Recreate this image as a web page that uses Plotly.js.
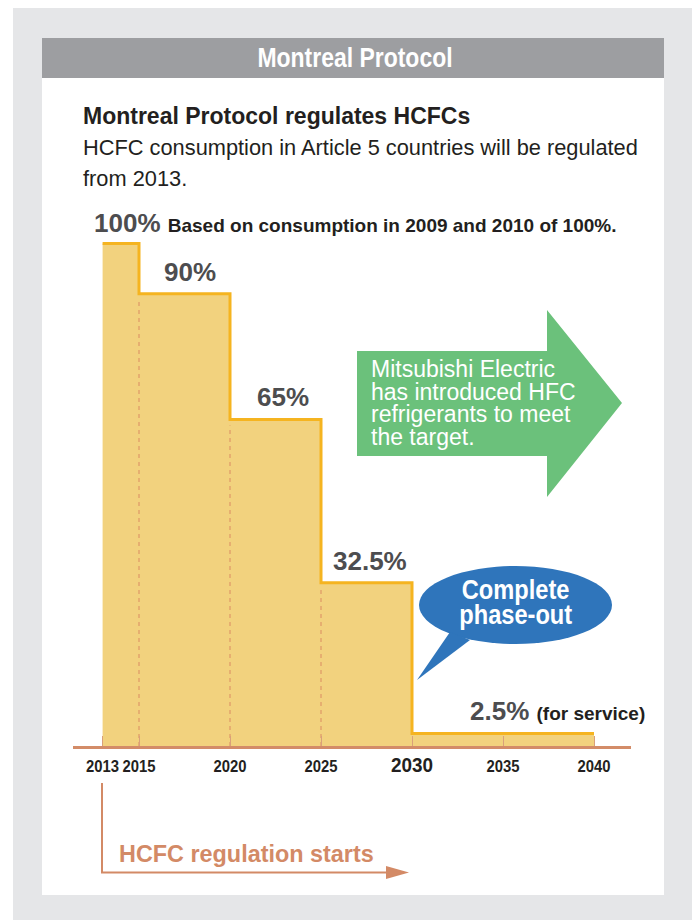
<!DOCTYPE html>
<html>
<head>
<meta charset="utf-8">
<script src="https://cdn.plot.ly/plotly-3.0.1.min.js"></script>
<style>html,body{margin:0;padding:0;background:#fff;}#chart{width:693px;height:920px;}
g.xtick{transform-box:fill-box;transform-origin:center;transform:scaleX(0.9);}
</style>
</head>
<body>
<div id="chart"></div>
<script>
// ---- data ----
const stepYears = [2013, 2015, 2020, 2025, 2030, 2040];
const consumption = [100, 90, 65, 32.5, 2.5, 2.5];
const pctLabels = ['100%', '90%', '65%', '32.5%', '2.5%'];
const dashedYears = [2015, 2020, 2025];
const tickYears = [2013, 2015, 2020, 2025, 2030, 2035, 2040];
const tickLabels = ['2013', '2015', '2020', '2025', '2030', '2035', '2040'];
const headerTitle = 'Montreal Protocol';
const subTitle = 'Montreal Protocol regulates HCFCs';
const bodyLines = ['HCFC consumption in Article 5 countries will be regulated', 'from 2013.'];
const baseNote = 'Based on consumption in 2009 and 2010 of 100%.';
const serviceNote = '(for service)';
const greenLines = ['Mitsubishi Electric', 'has introduced HFC', 'refrigerants to meet', 'the target.'];
const bubbleLines = ['Complete', 'phase-out'];
const startNote = 'HCFC regulation starts';

// ---- helpers (pixel -> paper) ----
const W = 693, H = 920;
const PX = v => v / W;
const PY = v => 1 - v / H;
const SANS = 'Liberation Sans, Arial, Helvetica, sans-serif';

// ---- traces ----
const stepTrace = {
  type: 'scatter', mode: 'lines',
  x: stepYears, y: consumption,
  line: {shape: 'hv', color: '#f5b420', width: 3},
  fill: 'tozeroy', fillcolor: '#f2d27e',
  hoverinfo: 'skip'
};
const dx = [], dy = [];
dashedYears.forEach(yr => {
  const v = consumption[stepYears.indexOf(yr)];
  dx.push(yr, yr, null); dy.push(0, v - 1.2, null);
});
const dashTrace = {
  type: 'scatter', mode: 'lines', x: dx, y: dy,
  line: {color: '#e2a46c', width: 1.5, dash: '4px,4px'},
  hoverinfo: 'skip'
};

// ---- annotations ----
const ann = [];
const narrow = {};
ann.push({xref: 'paper', yref: 'paper', x: PX(355), y: PY(57), text: '<b>' + headerTitle + '</b>',
  showarrow: false, xanchor: 'center', yanchor: 'middle', font: {family: SANS, size: 28, color: '#ffffff'}});
narrow[ann.length - 1] = 0.82;
ann.push({xref: 'paper', yref: 'paper', x: PX(81), y: PY(116), text: subTitle,
  showarrow: false, xanchor: 'left', yanchor: 'middle', font: {family: SANS, size: 23, color: '#231f20', weight: 'bold'}});
bodyLines.forEach((t, i) => ann.push({xref: 'paper', yref: 'paper', x: PX(81), y: PY(148 + i * 30), text: t,
  showarrow: false, xanchor: 'left', yanchor: 'middle', font: {family: SANS, size: 21.8, color: '#231f20'}}));

// percentage labels along the step
const pctStyle = [
  {xa: 'left', xs: -11, extra: baseNote, ys: 3},
  {xa: 'center', xs: 5, ys: 5},
  {xa: 'center', xs: 7, ys: 5},
  {xa: 'center', xs: 3, ys: 5},
  {xa: 'left', xs: -35, extra: serviceNote, ys: 5}
];
pctLabels.forEach((lab, i) => {
  const s = pctStyle[i];
  const xPos = i === 0 ? stepYears[0] : (stepYears[i] + stepYears[i + 1]) / 2;
  let txt = '<b>' + lab + '</b>';
  if (s.extra) txt += ' <span style="font-size:19px;color:#231f20"><b>' + s.extra + '</b></span>';
  ann.push({x: xPos, y: consumption[i], xref: 'x', yref: 'y', text: txt, showarrow: false,
    xanchor: s.xa, yanchor: 'bottom', xshift: s.xs, yshift: s.ys,
    font: {family: SANS, size: 26, color: '#4d4d4f'}});
});

greenLines.forEach((t, i) => ann.push({xref: 'paper', yref: 'paper', x: PX(370), y: PY(369 + i * 22.5), text: t,
  showarrow: false, xanchor: 'left', yanchor: 'middle', borderpad: 0,
  font: {family: SANS, size: 23, color: '#ffffff'}}));
bubbleLines.forEach((t, i) => {
  ann.push({xref: 'paper', yref: 'paper', x: PX(515), y: PY(589 + i * 25.5), text: '<b>' + t + '</b>',
    showarrow: false, xanchor: 'center', yanchor: 'middle', borderpad: 0,
    font: {family: SANS, size: 27.5, color: '#ffffff'}});
  narrow[ann.length - 1] = 0.86;
});
ann.push({xref: 'paper', yref: 'paper', x: PX(117), y: PY(854), text: '<b>' + startNote + '</b>',
  showarrow: false, xanchor: 'left', yanchor: 'middle', font: {family: SANS, size: 23.4, color: '#d38a66'}});

// condensed look for the headline-style texts
const css = document.createElement('style');
css.textContent = Object.keys(narrow).map(i => 'g.annotation[data-index="' + i + '"] text' +
  '{transform-box:fill-box;transform-origin:center;transform:scaleX(' + narrow[i] + ');}').join('\n');
document.head.appendChild(css);

// ---- shapes (page decoration) ----
const P = (pts) => 'M' + pts.map(p => PX(p[0]) + ',' + PY(p[1])).join(' L') + ' Z';
const shapes = [
  {type: 'rect', xref: 'paper', yref: 'paper', x0: PX(13), x1: PX(692), y0: PY(8), y1: PY(920), fillcolor: '#e5e6e8', line: {width: 0}, layer: 'below'},
  {type: 'rect', xref: 'paper', yref: 'paper', x0: PX(42), x1: PX(664), y0: PY(38), y1: PY(895), fillcolor: '#ffffff', line: {width: 0}, layer: 'below'},
  {type: 'rect', xref: 'paper', yref: 'paper', x0: PX(42), x1: PX(664), y0: PY(38), y1: PY(78), fillcolor: '#9d9ea1', line: {width: 0}, layer: 'below'},
  // green arrow
  {type: 'path', xref: 'paper', yref: 'paper', path: P([[357, 351], [547, 351], [547, 310], [622, 403], [547, 497], [547, 456], [357, 456]]),
    fillcolor: '#6bc17b', line: {width: 0}, layer: 'above'},
  // blue bubble
  {type: 'circle', xref: 'paper', yref: 'paper', x0: PX(419), x1: PX(612), y0: PY(566), y1: PY(644), fillcolor: '#2f75bb', line: {width: 0}, layer: 'above'},
  {type: 'path', xref: 'paper', yref: 'paper', path: P([[450, 632], [470, 640], [417, 680]]), fillcolor: '#2f75bb', line: {width: 0}, layer: 'above'},
  // regulation start arrow
  {type: 'path', xref: 'paper', yref: 'paper', path: 'M' + PX(102) + ',' + PY(783) + ' L' + PX(102) + ',' + PY(872.5) + ' L' + PX(390) + ',' + PY(872.5),
    line: {color: '#d38a66', width: 2}, layer: 'above'},
  {type: 'path', xref: 'paper', yref: 'paper', path: P([[386, 866], [409, 872.5], [386, 879]]), fillcolor: '#d38a66', line: {width: 0}, layer: 'above'}
];

// ---- axes ----
const pxPerYear = 18.2;
const xL = 73, xR = 631, x2013 = 102.6;
const xr0 = 2013 - (x2013 - xL) / pxPerYear;
const xr1 = xr0 + (xR - xL) / pxPerYear;
const baseY = 746, pxPerPct = 5.025;

const layout = {
  width: W, height: H, autosize: false,
  margin: {l: 0, r: 0, t: 0, b: 0, pad: 0},
  paper_bgcolor: '#ffffff', plot_bgcolor: 'rgba(0,0,0,0)',
  showlegend: false, hovermode: false,
  xaxis: {
    domain: [xL / W, xR / W], range: [xr0, xr1], fixedrange: true,
    showgrid: false, zeroline: false,
    showline: true, linecolor: '#d38c68', linewidth: 3,
    ticks: 'inside', ticklen: 10, tickwidth: 1, tickcolor: '#d9a07a',
    tickmode: 'array', tickvals: tickYears, tickangle: 0, ticklabeloverflow: 'allow', ticklabelstandoff: 3,
    ticktext: tickLabels.map(t => t === '2030' ? '<span style="font-size:21px">' + t + '</span>' : t),
    tickfont: {family: SANS, size: 16.5, color: '#231f20', weight: 'bold'}
  },
  yaxis: {
    domain: [(H - baseY) / H, 1], range: [0, baseY / pxPerPct], fixedrange: true, visible: false
  },
  shapes: shapes,
  annotations: ann
};

Plotly.newPlot('chart', [stepTrace, dashTrace], layout, {staticPlot: true, displayModeBar: false});
</script>
</body>
</html>
